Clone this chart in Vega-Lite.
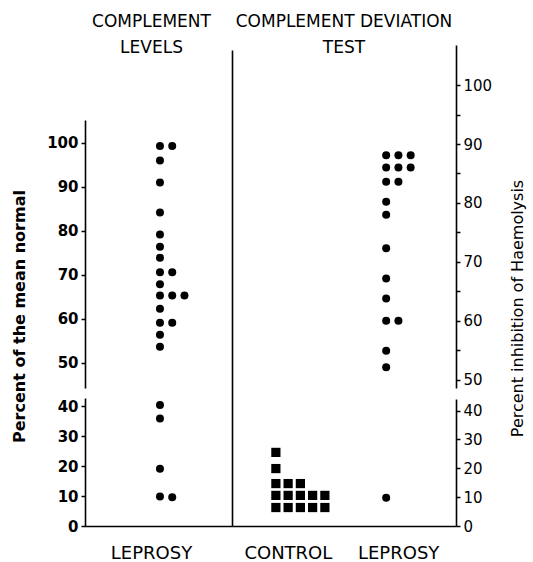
{
  "$schema": "https://vega.github.io/schema/vega-lite/v6.json",
  "padding": {"left": 11, "top": 13, "right": 5, "bottom": 5},
  "background": "white",
  "config": {
    "view": {"stroke": null},
    "font": "DejaVu Sans",
    "axis": {"domainColor": "black", "domainWidth": 1.6, "tickColor": "black", "tickWidth": 1.5, "labelColor": "black", "titleColor": "black", "grid": false, "labelFont": "DejaVu Sans", "titleFont": "DejaVu Sans"},
    "title": {"font": "DejaVu Sans", "fontSize": 17, "fontWeight": "normal", "color": "black", "lineHeight": 26}
  },
  "datasets": {
    "levels": [
      {"group": "LEPROSY", "col": 0, "value": 99.3},
      {"group": "LEPROSY", "col": 1, "value": 99.3},
      {"group": "LEPROSY", "col": 0, "value": 96},
      {"group": "LEPROSY", "col": 0, "value": 91},
      {"group": "LEPROSY", "col": 0, "value": 84.2},
      {"group": "LEPROSY", "col": 0, "value": 79.2},
      {"group": "LEPROSY", "col": 0, "value": 76.4},
      {"group": "LEPROSY", "col": 0, "value": 73.9},
      {"group": "LEPROSY", "col": 0, "value": 70.6},
      {"group": "LEPROSY", "col": 1, "value": 70.6},
      {"group": "LEPROSY", "col": 0, "value": 67.9},
      {"group": "LEPROSY", "col": 0, "value": 65.3},
      {"group": "LEPROSY", "col": 1, "value": 65.3},
      {"group": "LEPROSY", "col": 2, "value": 65.3},
      {"group": "LEPROSY", "col": 0, "value": 62.3},
      {"group": "LEPROSY", "col": 0, "value": 59.1},
      {"group": "LEPROSY", "col": 1, "value": 59.1},
      {"group": "LEPROSY", "col": 0, "value": 56.4},
      {"group": "LEPROSY", "col": 0, "value": 53.7},
      {"group": "LEPROSY", "col": 0, "value": 40.4},
      {"group": "LEPROSY", "col": 0, "value": 35.9},
      {"group": "LEPROSY", "col": 0, "value": 19.1},
      {"group": "LEPROSY", "col": 0, "value": 9.8},
      {"group": "LEPROSY", "col": 1, "value": 9.6}
    ],
    "cdt": [
      {"group": "LEPROSY", "col": 0, "value": 88.1},
      {"group": "LEPROSY", "col": 1, "value": 88.1},
      {"group": "LEPROSY", "col": 2, "value": 88.1},
      {"group": "LEPROSY", "col": 0, "value": 86.0},
      {"group": "LEPROSY", "col": 1, "value": 86.0},
      {"group": "LEPROSY", "col": 2, "value": 86.0},
      {"group": "LEPROSY", "col": 0, "value": 83.6},
      {"group": "LEPROSY", "col": 1, "value": 83.6},
      {"group": "LEPROSY", "col": 0, "value": 80.2},
      {"group": "LEPROSY", "col": 0, "value": 78.0},
      {"group": "LEPROSY", "col": 0, "value": 72.3},
      {"group": "LEPROSY", "col": 0, "value": 67.2},
      {"group": "LEPROSY", "col": 0, "value": 63.8},
      {"group": "LEPROSY", "col": 0, "value": 60.0},
      {"group": "LEPROSY", "col": 1, "value": 60.0},
      {"group": "LEPROSY", "col": 0, "value": 54.9},
      {"group": "LEPROSY", "col": 0, "value": 52.1},
      {"group": "LEPROSY", "col": 0, "value": 9.8},
      {"group": "CONTROL", "col": 0, "value": 25.5},
      {"group": "CONTROL", "col": 0, "value": 19.9},
      {"group": "CONTROL", "col": 0, "value": 14.7},
      {"group": "CONTROL", "col": 1, "value": 14.7},
      {"group": "CONTROL", "col": 2, "value": 14.7},
      {"group": "CONTROL", "col": 0, "value": 10.6},
      {"group": "CONTROL", "col": 1, "value": 10.6},
      {"group": "CONTROL", "col": 2, "value": 10.6},
      {"group": "CONTROL", "col": 3, "value": 10.6},
      {"group": "CONTROL", "col": 4, "value": 10.6},
      {"group": "CONTROL", "col": 0, "value": 6.4},
      {"group": "CONTROL", "col": 1, "value": 6.4},
      {"group": "CONTROL", "col": 2, "value": 6.4},
      {"group": "CONTROL", "col": 3, "value": 6.4},
      {"group": "CONTROL", "col": 4, "value": 6.4}
    ]
  },
  "spacing": 0,
  "bounds": "flush",
  "hconcat": [
    {
      "width": 147,
      "height": 481,
      "title": {"text": ["COMPLEMENT", "LEVELS"], "anchor": "middle", "frame": "group", "baseline": "alphabetic", "offset": -25, "dx": -7},
      "data": {"name": "levels"},
      "layer": [
        {
          "transform": [{"filter": "datum.value >= 45"}],
          "mark": {"type": "circle", "size": 64, "opacity": 1, "color": "black"},
          "encoding": {
            "x": {"field": "group", "type": "nominal", "scale": {"domain": ["LEPROSY"], "paddingInner": 0, "paddingOuter": 1.5417, "align": 0.765}, "axis": {"title": null, "ticks": false, "labelAngle": 0, "labelFontSize": 18, "labelPadding": 18, "labelBaseline": "top", "labelOffset": -33}},
            "xOffset": {"field": "col", "type": "nominal", "scale": {"domain": [0, 1, 2], "paddingInner": 0, "paddingOuter": 0}},
            "y": {"field": "value", "type": "quantitative", "scale": {"domain": [44.3, 105.2], "range": [343, 75], "nice": false, "zero": false},
              "axis": {"orient": "left", "values": [50, 60, 70, 80, 90, 100], "title": "Percent of the mean normal", "titleX": -61, "titleY": 271, "titleBaseline": "alphabetic", "titleFontSize": 16, "titleFontWeight": "bold", "labelFontSize": 15, "labelFontWeight": "bold", "tickSize": 4, "labelPadding": 3}}
          }
        },
        {
          "transform": [{"filter": "datum.value < 45"}],
          "mark": {"type": "circle", "size": 64, "opacity": 1, "color": "black"},
          "encoding": {
            "x": {"field": "group", "type": "nominal"},
            "xOffset": {"field": "col", "type": "nominal"},
            "y": {"field": "value", "type": "quantitative", "scale": {"domain": [0, 42.7], "range": [481, 353], "nice": false, "zero": false},
              "axis": {"orient": "left", "values": [0, 10, 20, 30, 40], "title": null, "labelFontSize": 15, "labelFontWeight": "bold", "tickSize": 4, "labelPadding": 3}}
          }
        }
      ],
      "resolve": {"scale": {"y": "independent"}, "axis": {"y": "independent"}}
    },
    {
      "width": 224,
      "height": 481,
      "title": {"text": ["COMPLEMENT DEVIATION", "TEST"], "anchor": "middle", "frame": "group", "baseline": "alphabetic", "offset": -25},
      "data": {"name": "cdt"},
      "layer": [
        {
          "transform": [{"filter": "datum.value >= 45"}],
          "mark": {"type": "point", "filled": true, "opacity": 1, "color": "black"},
          "encoding": {
            "x": {"field": "group", "type": "nominal", "scale": {"domain": ["CONTROL", "LEPROSY"], "paddingInner": 0.411, "paddingOuter": 0.221, "align": 0.9}, "axis": {"title": null, "ticks": false, "labelAngle": 0, "labelFontSize": 18, "labelPadding": 18, "labelBaseline": "top", "labelOffset": -20}},
            "xOffset": {"field": "col", "type": "nominal", "scale": {"domain": [0, 1, 2, 3, 4], "paddingInner": 0, "paddingOuter": 0}},
            "shape": {"field": "group", "type": "nominal", "scale": {"domain": ["CONTROL", "LEPROSY"], "range": ["square", "circle"]}, "legend": null},
            "size": {"field": "group", "type": "nominal", "scale": {"domain": ["CONTROL", "LEPROSY"], "range": [85, 64]}, "legend": null},
            "y": {"field": "value", "type": "quantitative", "scale": {"domain": [48.6, 106.8], "range": [343, 0], "nice": false, "zero": false},
              "axis": {"orient": "right", "values": [50, 55, 60, 65, 70, 75, 80, 85, 90, 95, 100], "labelExpr": "datum.value % 10 === 0 ? datum.label : ''", "title": "Percent inhibition of Haemolysis", "titleAngle": -90, "titleX": 66, "titleY": 263, "titleBaseline": "alphabetic", "titleFontSize": 16, "titleFontWeight": "normal", "labelFontSize": 15, "tickSize": 4, "labelPadding": 3}}
          }
        },
        {
          "transform": [{"filter": "datum.value < 45"}],
          "mark": {"type": "point", "filled": true, "opacity": 1, "color": "black"},
          "encoding": {
            "x": {"field": "group", "type": "nominal"},
            "xOffset": {"field": "col", "type": "nominal"},
            "shape": {"field": "group", "type": "nominal", "legend": null},
            "size": {"field": "group", "type": "nominal", "legend": null},
            "y": {"field": "value", "type": "quantitative", "scale": {"domain": [0, 44], "range": [481, 354], "nice": false, "zero": false},
              "axis": {"orient": "right", "values": [0, 10, 20, 30, 40], "title": null, "labelFontSize": 15, "tickSize": 4, "labelPadding": 3}}
          }
        },
        {
          "mark": {"type": "rule", "opacity": 0},
          "encoding": {
            "y": {"datum": 0, "type": "quantitative", "scale": {"domain": [0, 1], "range": [481, 5]},
              "axis": {"orient": "left", "labels": false, "ticks": false, "title": null, "domain": true}}
          }
        }
      ],
      "resolve": {"scale": {"y": "independent"}, "axis": {"y": "independent"}}
    }
  ]
}
